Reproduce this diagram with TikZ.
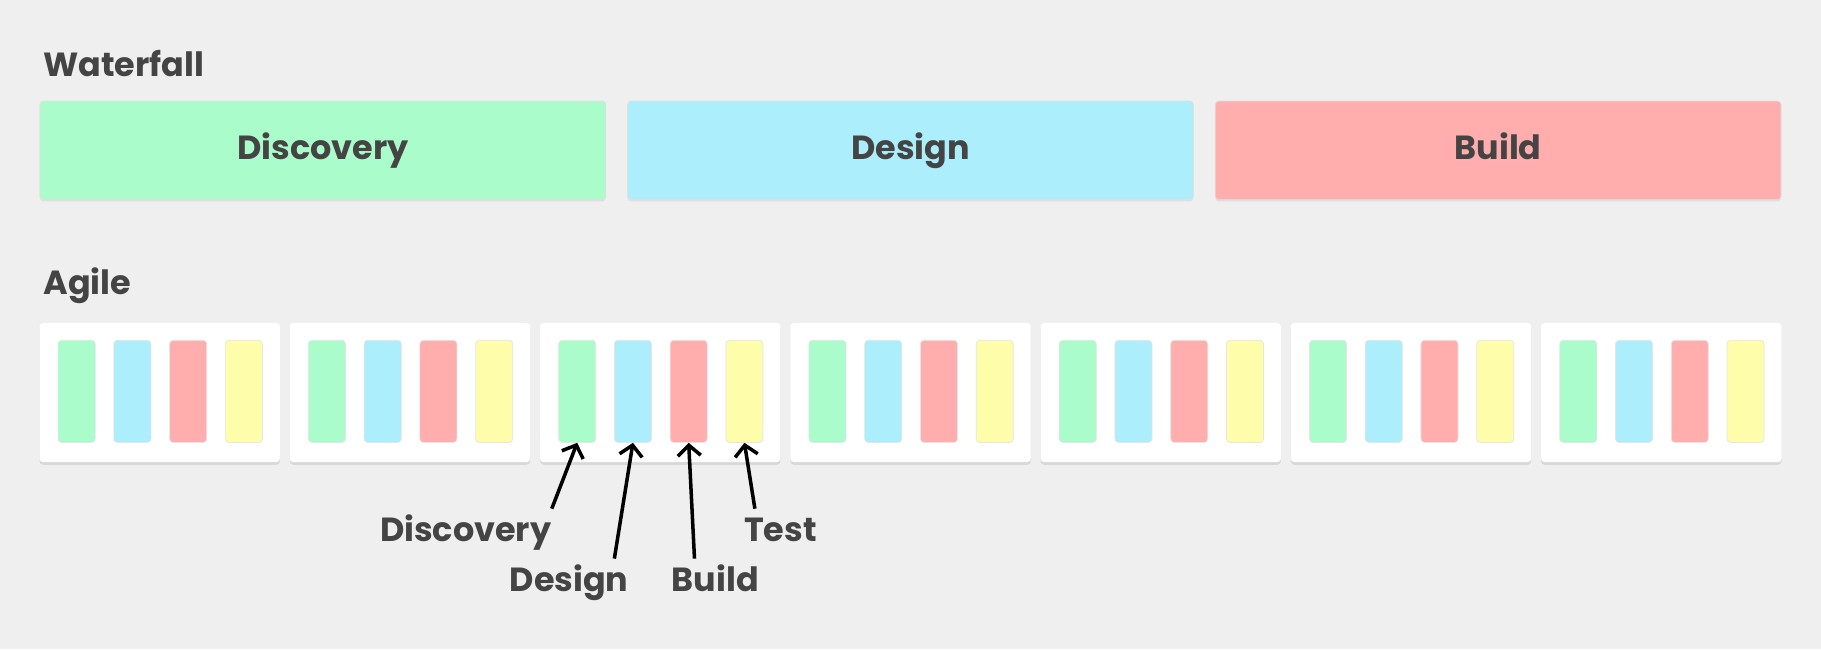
\documentclass[tikz,border=0pt]{standalone}
\usepackage{fontspec}
\setmainfont{Poppins}
\usetikzlibrary{positioning, shadows, arrows.meta}
\definecolor{ink}{HTML}{444444}
\definecolor{paper}{HTML}{EFEFEF}
\definecolor{cDisc}{HTML}{AAFCCA}
\definecolor{cDes}{HTML}{ACEEFC}
\definecolor{cBuild}{HTML}{FFADAD}
\definecolor{cTest}{HTML}{FDFDAA}
\tikzset{
  phase/.style={rectangle, rounded corners=2pt, minimum width=11.3cm, minimum height=1.97cm, draw=black!12, text height=14pt, text depth=4pt, font=\fontsize{19}{21}\selectfont\bfseries, text=ink, drop shadow={shadow xshift=0pt, shadow yshift=-1pt, opacity=0.15}},
  card/.style={rectangle, rounded corners=2pt, minimum width=4.8cm, minimum height=2.78cm, fill=white, drop shadow={shadow xshift=0pt, shadow yshift=-1.5pt, opacity=0.2}},
  bar/.style={rectangle, rounded corners=2pt, minimum width=0.74cm, minimum height=2.04cm, draw=black!10},
  heading/.style={anchor=west, font=\fontsize{19}{21}\selectfont\bfseries, text=ink},
  tag/.style={text height=14pt, text depth=4pt, font=\fontsize{19}{21}\selectfont\bfseries, text=ink},
  arrow/.style={->, >={Straight Barb[length=6pt, width=13pt]}, line width=2pt}
}
\begin{document}
\begin{tikzpicture}[x=0.0232cm, y=-0.0232cm]
  \fill[paper] (0,0) rectangle (1568,559);
  \useasboundingbox (0,0) rectangle (1568,559);
  % waterfall
  \node(wf)[heading] at (32,55) {Waterfall};
  \node(wfDisc)[phase, fill=cDisc] at (278,129.5) {Discovery};
  \node(wfDes)[phase, fill=cDes] at (784,129.5) {Design};
  \node(wfBuild)[phase, fill=cBuild] at (1290,129.5) {Build};
  % agile
  \node(ag)[heading] at (32,246) {Agile};
  \foreach \i in {0,...,6} {
    \node(card\i)[card] at (137.5+215.5*\i,338) {};
    \foreach \c [count=\j from 0] in {cDisc,cDes,cBuild,cTest}
      \node(bar\i\j)[bar, fill=\c] at (66+215.5*\i+48*\j,337) {};
  }
  % labels
  \node(lDisc)[tag] at (401,459) {Discovery};
  \node(lDes)[tag] at (490,502) {Design};
  \node(lBuild)[tag] at (616,502) {Build};
  \node(lTest)[tag] at (672,459) {Test};
  \draw[arrow](lDisc.north east)++(-5,-2) coordinate(aDisc) -- (bar20.south);
  \draw[arrow](lDes.north)++(39,-2) coordinate(aDes) -- (bar21.south);
  \draw[arrow](lBuild.north)++(-18,-2) coordinate(aBuild) -- (bar22.south);
  \draw[arrow](lTest.north)++(-22,-2) coordinate(aTest) -- (bar23.south);
\end{tikzpicture}
\end{document}
